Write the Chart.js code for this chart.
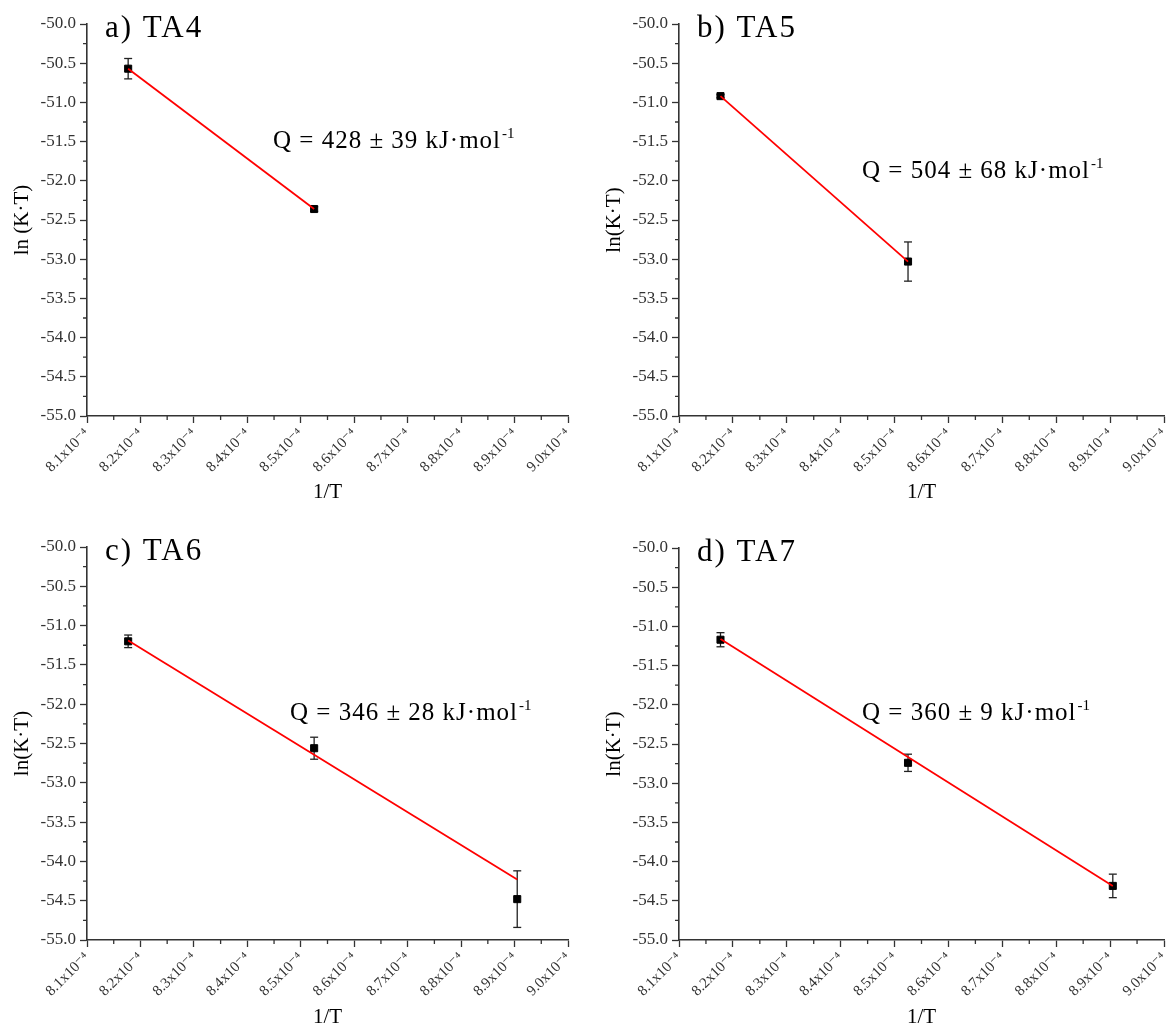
<!DOCTYPE html>
<html>
<head>
<meta charset="utf-8">
<script src="https://cdn.jsdelivr.net/npm/chart.js@4/dist/chart.umd.min.js"></script>
<style>
    body { margin: 0; background: #fff; }
    canvas { position: absolute; }
</style>
</head>
<body>
<canvas id="chart_a" width="590" height="515" style="left:0;top:0"></canvas>
<canvas id="chart_b" width="585" height="515" style="left:590px;top:0"></canvas>
<canvas id="chart_c" width="590" height="510" style="left:0;top:520px"></canvas>
<canvas id="chart_d" width="585" height="510" style="left:590px;top:520px"></canvas>
<script>
// eixo x em unidades de 1e-4 (1/T)
var xTicks = [8.1, 8.2, 8.3, 8.4, 8.5, 8.6, 8.7, 8.8, 8.9, 9.0];
var xTickLabels = ['8.1x10⁻⁴', '8.2x10⁻⁴', '8.3x10⁻⁴', '8.4x10⁻⁴', '8.5x10⁻⁴',
    '8.6x10⁻⁴', '8.7x10⁻⁴', '8.8x10⁻⁴', '8.9x10⁻⁴', '9.0x10⁻⁴'];
var yTicks = [-55.0, -54.5, -54.0, -53.5, -53.0, -52.5, -52.0, -51.5, -51.0, -50.5, -50.0];
var yTickLabels = ['-55.0', '-54.5', '-54.0', '-53.5', '-53.0', '-52.5', '-52.0', '-51.5', '-51.0', '-50.5', '-50.0'];

// TA4
var invT_a = [8.177, 8.525];
var lnKT_a = [-50.57, -52.36];
var erro_a = [0.13, 0.03];
var ajuste_a = [-50.57, -52.36];

// TA5
var invT_b = [8.177, 8.525];
var lnKT_b = [-50.92, -53.03];
var erro_b = [0.02, 0.25];
var ajuste_b = [-50.92, -53.03];

// TA6
var invT_c = [8.177, 8.525, 8.905];
var lnKT_c = [-51.20, -52.56, -54.48];
var erro_c = [0.08, 0.14, 0.36];
var ajuste_c = [-51.19, -54.23];

// TA7
var invT_d = [8.177, 8.525, 8.905];
var lnKT_d = [-51.17, -52.74, -54.31];
var erro_d = [0.09, 0.11, 0.15];
var ajuste_d = [-51.16, -54.31];

var fonte = '"Liberation Serif", "DejaVu Serif", serif';
var corEixo = '#333';

// ticks menores entre os maiores
var pluginMinor = {
    id: 'minor',
    afterDraw: function (chart) {
        var ctx = chart.ctx;
        var sx = chart.scales.x, sy = chart.scales.y;
        ctx.save();
        ctx.strokeStyle = corEixo;
        ctx.lineWidth = 1.3;
        ctx.beginPath();
        for (var i = 0; i < xTicks.length - 1; i++) {
            var px = sx.getPixelForValue((xTicks[i] + xTicks[i + 1]) / 2);
            ctx.moveTo(px, sx.top);
            ctx.lineTo(px, sx.top + 4);
        }
        for (var j = 0; j < yTicks.length - 1; j++) {
            var py = sy.getPixelForValue((yTicks[j] + yTicks[j + 1]) / 2);
            ctx.moveTo(sy.right, py);
            ctx.lineTo(sy.right - 4, py);
        }
        ctx.stroke();
        ctx.restore();
    }
};

// titulo do painel e valor de Q
var pluginTextos = {
    id: 'textos',
    afterDraw: function (chart, args, opts) {
        var ctx = chart.ctx;
        var area = chart.chartArea;
        ctx.save();
        ctx.fillStyle = '#000';
        ctx.textBaseline = 'alphabetic';
        ctx.textAlign = 'left';
        ctx.font = '31px ' + fonte;
        ctx.letterSpacing = '2px';
        ctx.fillText(opts.painel, area.left + 18, area.top + 13);
        var x = area.left + opts.qx, y = area.top + opts.qy;
        ctx.font = '25px ' + fonte;
        ctx.letterSpacing = '1px';
        ctx.fillText(opts.q, x, y);
        var w = ctx.measureText(opts.q).width;
        ctx.font = '15px ' + fonte;
        ctx.letterSpacing = '0px';
        ctx.fillText('-1', x + w + 1, y - 10);
        ctx.restore();
    }
};

function barrasErro(xs, ys, es) {
    var pts = [];
    for (var i = 0; i < xs.length; i++) {
        pts.push({ x: xs[i], y: ys[i] - es[i] });
        pts.push({ x: xs[i], y: ys[i] + es[i] });
        pts.push({ x: xs[i], y: null });
    }
    return pts;
}

function pontos(xs, ys) {
    return xs.map(function (v, i) { return { x: v, y: ys[i] }; });
}

function getConfig(xs, ys, es, fit, yTitulo, lay, textos) {
    return {
        type: 'scatter',
        data: {
            datasets: [{
                label: 'ajuste',
                data: [{ x: xs[0], y: fit[0] }, { x: xs[xs.length - 1], y: fit[1] }],
                showLine: true,
                borderColor: '#ff0000',
                borderWidth: 1.8,
                pointRadius: 0
            }, {
                label: 'ln(K·T)',
                data: pontos(xs, ys),
                pointStyle: 'rect',
                pointRadius: 5,
                pointBackgroundColor: '#000',
                pointBorderColor: '#000',
                pointBorderWidth: 1
            }, {
                label: 'erro',
                data: barrasErro(xs, ys, es),
                showLine: true,
                spanGaps: false,
                borderColor: '#222',
                borderWidth: 1.3,
                pointStyle: 'line',
                pointRadius: 4,
                pointBorderColor: '#222',
                pointBorderWidth: 1.3
            }]
        },
        options: {
            responsive: false,
            animation: false,
            layout: { padding: lay.padding },
            plugins: {
                legend: { display: false },
                tooltip: { enabled: false },
                textos: textos
            },
            scales: {
                x: {
                    type: 'linear',
                    min: 8.1,
                    max: 9.0,
                    afterBuildTicks: function (s) {
                        s.ticks = xTicks.map(function (v) { return { value: v }; });
                    },
                    afterFit: function (s) {
                        s.height = lay.xAltura;
                        s.paddingLeft = 0;
                        s.paddingRight = 0;
                    },
                    ticks: {
                        callback: function (v, i) { return xTickLabels[i]; },
                        minRotation: 45,
                        maxRotation: 45,
                        padding: 2,
                        color: corEixo,
                        font: { family: fonte, size: 15 }
                    },
                    grid: { drawOnChartArea: false, tickLength: 7, tickColor: corEixo, tickWidth: 1.3 },
                    border: { color: corEixo, width: 1.6 },
                    title: {
                        display: true,
                        text: '1/T',
                        color: '#000',
                        font: { family: fonte, size: 21 },
                        padding: { top: 0, bottom: lay.xTituloPad }
                    }
                },
                y: {
                    type: 'linear',
                    min: -55,
                    max: -50,
                    afterBuildTicks: function (s) {
                        s.ticks = yTicks.map(function (v) { return { value: v }; });
                    },
                    afterFit: function (s) {
                        s.width = lay.yLargura;
                        s.paddingTop = 0;
                        s.paddingBottom = 0;
                    },
                    ticks: {
                        callback: function (v, i) { return yTickLabels[i]; },
                        padding: 4,
                        color: corEixo,
                        font: { family: fonte, size: 17 }
                    },
                    grid: { drawOnChartArea: false, tickLength: 7, tickColor: corEixo, tickWidth: 1.3 },
                    border: { color: corEixo, width: 1.6 },
                    title: {
                        display: true,
                        text: yTitulo,
                        color: '#000',
                        font: { family: fonte, size: 21 },
                        padding: { top: lay.yTituloPad, bottom: 0 }
                    }
                }
            }
        },
        plugins: [pluginMinor, pluginTextos]
    };
}

new Chart(document.getElementById('chart_a').getContext('2d'), getConfig(invT_a, lnKT_a, erro_a, ajuste_a, 'ln (K·T)',
    { padding: { left: 0, top: 24, right: 22, bottom: 0 }, xAltura: 99, yLargura: 87, xTituloPad: 10, yTituloPad: 10 },
    { painel: 'a) TA4', q: 'Q = 428 ± 39 kJ·mol', qx: 186, qy: 124 }));

new Chart(document.getElementById('chart_b').getContext('2d'), getConfig(invT_b, lnKT_b, erro_b, ajuste_b, 'ln(K·T)',
    { padding: { left: 0, top: 24, right: 11, bottom: 0 }, xAltura: 99, yLargura: 89, xTituloPad: 10, yTituloPad: 12 },
    { painel: 'b) TA5', q: 'Q = 504 ± 68 kJ·mol', qx: 183, qy: 154 }));

new Chart(document.getElementById('chart_c').getContext('2d'), getConfig(invT_c, lnKT_c, erro_c, ajuste_c, 'ln(K·T)',
    { padding: { left: 0, top: 27, right: 22, bottom: 0 }, xAltura: 90, yLargura: 87, xTituloPad: 0, yTituloPad: 10 },
    { painel: 'c) TA6', q: 'Q = 346 ± 28 kJ·mol', qx: 203, qy: 173 }));

new Chart(document.getElementById('chart_d').getContext('2d'), getConfig(invT_d, lnKT_d, erro_d, ajuste_d, 'ln(K·T)',
    { padding: { left: 0, top: 28, right: 11, bottom: 0 }, xAltura: 90, yLargura: 89, xTituloPad: 0, yTituloPad: 12 },
    { painel: 'd) TA7', q: 'Q = 360 ± 9 kJ·mol', qx: 183, qy: 172 }));
</script>
</body>
</html>
